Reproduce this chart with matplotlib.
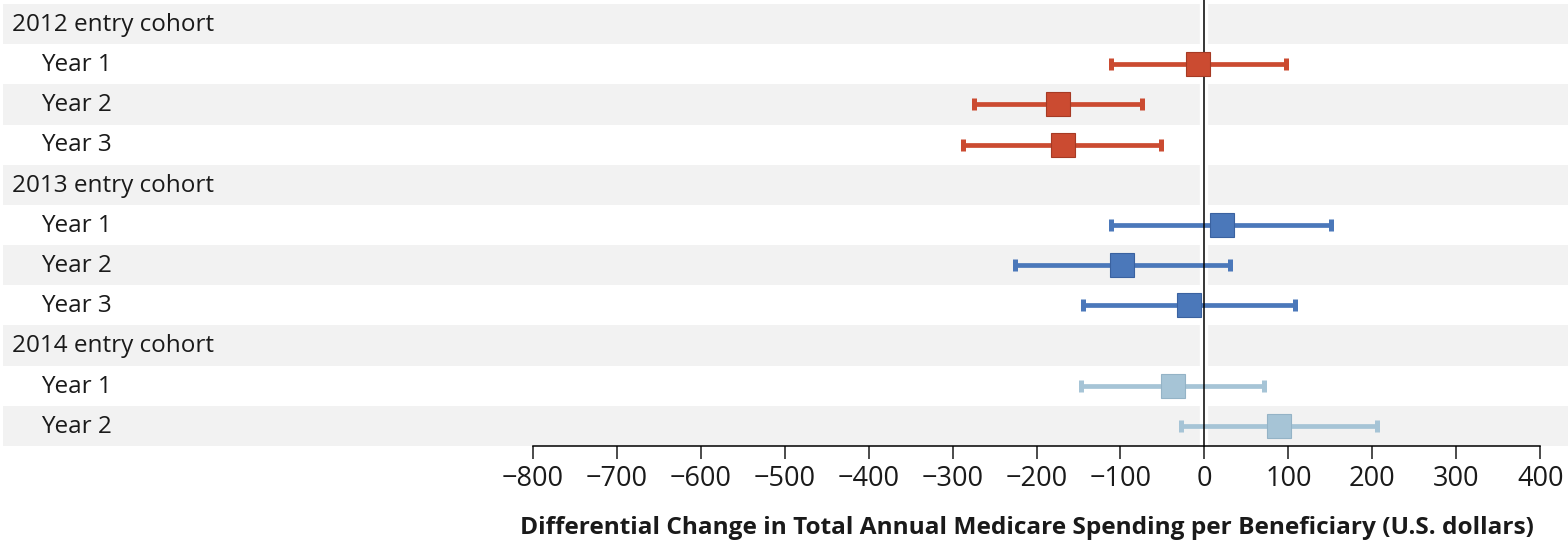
import matplotlib.pyplot as plt
import matplotlib.transforms as mtransforms

# rows, top to bottom
row_labels = ["2012 entry cohort", "Year 1", "Year 2", "Year 3",
              "2013 entry cohort", "Year 1", "Year 2", "Year 3",
              "2014 entry cohort", "Year 1", "Year 2"]
is_header = [True, False, False, False, True, False, False, False, True, False, False]

# estimates (U.S. dollars) for each year row
est_rows = [1, 2, 3, 5, 6, 7, 9, 10]
estimates = [-8, -174, -169, 21, -98, -18, -37, 89]
lower = [-111, -274, -288, -111, -226, -145, -147, -28]
upper = [97, -74, -52, 151, 31, 108, 71, 205]
cohort = ["2012", "2012", "2012", "2013", "2013", "2013", "2014", "2014"]

colors = {"2012": ("#CB4B31", "#A63A24"),
          "2013": ("#4B78BA", "#3A62A0"),
          "2014": ("#A6C4D6", "#94B3C6")}

xticks = list(range(-800, 401, 100))

plt.rcParams['font.family'] = ['Open Sans', 'DejaVu Sans']

fig = plt.figure(figsize=(15.68, 5.45), dpi=100)
ax = fig.add_axes([3 / 1568, 1 - 446 / 545, 1 - 3 / 1568, 442 / 545])

# x range chosen so the tick span sits at the right of the panel
ax.set_xlim(-1431, 433)
ax.set_ylim(len(row_labels) - 0.5, -0.5)

for i in range(len(row_labels)):
    if i % 2 == 0:
        ax.axhspan(i - 0.5, i + 0.5, color="#F2F2F2", lw=0, zorder=0)

blend = mtransforms.blended_transform_factory(ax.transAxes, ax.transData)
for i, (lab, hdr) in enumerate(zip(row_labels, is_header)):
    x = 9 / 1565 if hdr else 38 / 1565
    ax.text(x, i + 0.02, lab, transform=blend, ha="left", va="center",
            fontsize=17.5, color="#1a1a1a")

# zero reference line with a white gap in the bands
ax.axvline(0, ymin=0, ymax=1.01, color="white", lw=6, zorder=1, clip_on=False)
ax.axvline(0, ymin=0, ymax=1.01, color="black", lw=1.1, zorder=4, clip_on=False)

for r, e, lo, hi, c in zip(est_rows, estimates, lower, upper, cohort):
    face, edge = colors[c]
    ax.errorbar([e], [r], xerr=[[e - lo], [hi - e]], fmt="none",
                ecolor=face, elinewidth=3.4, capsize=4.5, capthick=3.6, zorder=3)
    ax.plot([e], [r], marker="s", markersize=17, markerfacecolor=face,
            markeredgecolor=edge, markeredgewidth=0.8, zorder=5)

for s in ["top", "left", "right"]:
    ax.spines[s].set_visible(False)
ax.spines["bottom"].set_bounds(-800, 400)
ax.spines["bottom"].set_linewidth(1.1)
ax.set_yticks([])
ax.set_xticks(xticks)
ax.set_xticklabels([f"\u2212{abs(t)}" if t < 0 else str(t) for t in xticks])
ax.tick_params(axis="x", direction="out", length=9, width=1.1,
               labelsize=19.5, pad=5, colors="#1a1a1a")

fig.text(1027 / 1568, 1 - 528 / 545,
         "Differential Change in Total Annual Medicare Spending per Beneficiary (U.S. dollars)",
         ha="center", va="center", fontsize=17.6, fontweight="bold", color="#1a1a1a")

fig.savefig("out.png", dpi=100)
